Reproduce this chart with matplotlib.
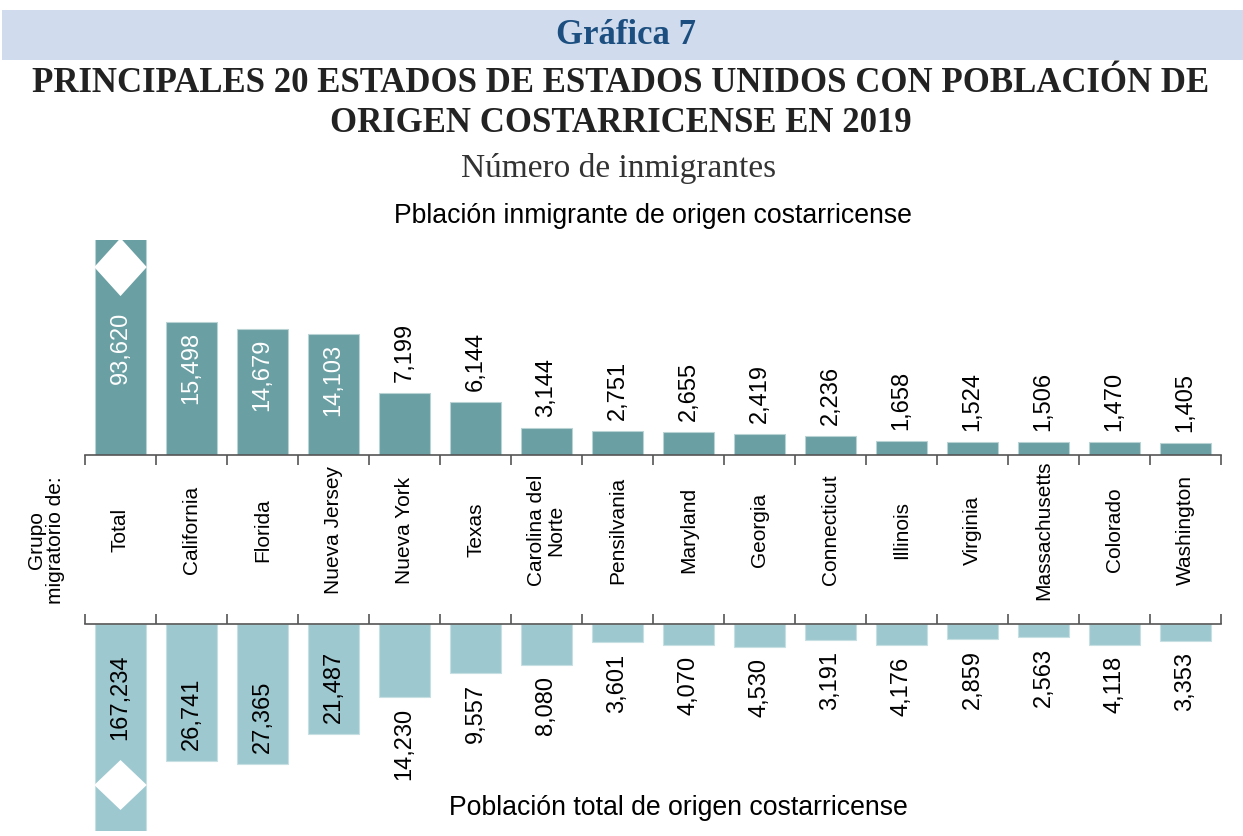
import matplotlib
matplotlib.use("Agg")
import matplotlib.pyplot as plt
import matplotlib.transforms as mtransforms
from matplotlib.patches import Polygon, Rectangle

categories = ["Total", "California", "Florida", "Nueva Jersey", "Nueva York", "Texas",
              "Carolina del\nNorte", "Pensilvania", "Maryland", "Georgia", "Connecticut",
              "Illinois", "Virginia", "Massachusetts", "Colorado", "Washington"]
inmigrantes = [93620, 15498, 14679, 14103, 7199, 6144, 3144, 2751, 2655, 2419, 2236,
               1658, 1524, 1506, 1470, 1405]
poblacion_total = [167234, 26741, 27365, 21487, 14230, 9557, 8080, 3601, 4070, 4530,
                   3191, 4176, 2859, 2563, 4118, 3353]

W, H = 1243, 836
fig = plt.figure(figsize=(W / 100, H / 100), dpi=100)
SANS = "Liberation Sans"
SERIF = "Liberation Serif"
VFS = 17

def px_axes(x0, y0, x1, y1):
    return fig.add_axes([x0 / W, 1 - y1 / H, (x1 - x0) / W, (y1 - y0) / H])

# header band
fig.patches.append(Rectangle((2 / W, 1 - 60 / H), 1 - 2 / W, 50 / H, transform=fig.transFigure,
                             facecolor="#d0dcee", edgecolor="none", zorder=0))
fig.text(626 / W, 1 - 35 / H, "Gráfica 7", ha="center", va="center", family=SERIF,
         fontweight="bold", fontsize=25, color="#1c4f80")
fig.text(621 / W, 1 - 83 / H, "PRINCIPALES 20 ESTADOS DE ESTADOS UNIDOS CON POBLACIÓN DE",
         ha="center", va="center", family=SERIF, fontweight="bold", fontsize=25, color="#222222")
fig.text(621 / W, 1 - 123 / H, "ORIGEN COSTARRICENSE EN 2019",
         ha="center", va="center", family=SERIF, fontweight="bold", fontsize=25, color="#222222")
fig.text(619 / W, 1 - 168 / H, "Número de inmigrantes", ha="center", va="center",
         family=SERIF, fontsize=24, color="#333333")
fig.text(653 / W, 1 - 216 / H, "Pblación inmigrante de origen costarricense", ha="center",
         va="center", family=SANS, fontsize=19.2, color="black")
fig.text(678 / W, 1 - 808 / H, "Población total de origen costarricense", ha="center",
         va="center", family=SANS, fontsize=19.2, color="black")
fig.text(46 / W, 1 - 540 / H, "Grupo\nmigratorio de:", ha="center", va="center",
         rotation=90, family=SANS, fontsize=15, linespacing=1.0)

n = len(categories)
xs = list(range(n))
top_col = "#6a9fa3"
bot_col = "#9ec8cf"
axis_col = "#555555"
bw = 0.72

# ---------- top axes ----------
ax1 = px_axes(85, 240, 1221, 455)
ax1.bar(xs, inmigrantes, width=bw, color=top_col, edgecolor="#b9d3d5", linewidth=0.8)
ax1.set_xlim(-0.5, n - 0.5)
ax1.set_ylim(0, 215 / 8.58 * 1000)
for s in ["top", "right", "left"]:
    ax1.spines[s].set_visible(False)
ax1.spines["bottom"].set_color(axis_col)
ax1.spines["bottom"].set_linewidth(1.2)
ax1.set_yticks([])
ax1.set_xticks([i - 0.5 for i in range(n + 1)])
ax1.set_xticklabels([])
ax1.tick_params(axis="x", direction="out", length=7, width=1.2, color=axis_col)

ymax1 = ax1.get_ylim()[1]
for i, v in enumerate(inmigrantes):
    lab = f"{v:,}"
    if v > ymax1:
        ax1.text(i, (455 - 312) / 215, lab, transform=mtransforms.blended_transform_factory(
            ax1.transData, ax1.transAxes), rotation=90, ha="center", va="top",
            color="white", fontsize=VFS, family=SANS)
    elif v > 10000:
        ax1.annotate(lab, (i, v), xytext=(0, -10), textcoords="offset pixels", rotation=90,
                     ha="center", va="top", color="white", fontsize=VFS, family=SANS)
    else:
        ax1.annotate(lab, (i, v), xytext=(0, 11), textcoords="offset pixels", rotation=90,
                     ha="center", va="bottom", color="black", fontsize=VFS, family=SANS)

# diamond break on top Total bar
tr1 = mtransforms.blended_transform_factory(ax1.transData, ax1.transAxes)
cy, hh, hw = 0.874, 29 / 215, 0.37
ax1.add_patch(Polygon([(0 - hw, cy), (0, cy + hh), (0 + hw, cy), (0, cy - hh)],
                      closed=True, transform=tr1, facecolor="white", edgecolor="none",
                      clip_on=False, zorder=5))

# ---------- bottom axes ----------
ax2 = px_axes(85, 624, 1221, 831)
ax2.bar(xs, poblacion_total, width=bw, color=bot_col, edgecolor="#c6dfe3", linewidth=0.8)
ax2.set_xlim(-0.5, n - 0.5)
ax2.set_ylim(207 / 5.13 * 1000, 0)
for s in ["bottom", "right", "left"]:
    ax2.spines[s].set_visible(False)
ax2.spines["top"].set_color(axis_col)
ax2.spines["top"].set_linewidth(1.2)
ax2.xaxis.tick_top()
ax2.set_yticks([])
ax2.set_xticks([i - 0.5 for i in range(n + 1)])
ax2.set_xticklabels([])
ax2.tick_params(axis="x", direction="out", length=7, width=1.2, color=axis_col)

ymax2 = ax2.get_ylim()[0]
for i, v in enumerate(poblacion_total):
    lab = f"{v:,}"
    if v > ymax2:
        ax2.text(i, (831 - 740) / 207, lab, transform=mtransforms.blended_transform_factory(
            ax2.transData, ax2.transAxes), rotation=90, ha="center", va="bottom",
            color="black", fontsize=VFS, family=SANS)
    elif v > 20000:
        ax2.annotate(lab, (i, v), xytext=(0, 11), textcoords="offset pixels", rotation=90,
                     ha="center", va="bottom", color="black", fontsize=VFS, family=SANS)
    else:
        ax2.annotate(lab, (i, v), xytext=(0, -11), textcoords="offset pixels", rotation=90,
                     ha="center", va="top", color="black", fontsize=VFS, family=SANS)

tr2 = mtransforms.blended_transform_factory(ax2.transData, ax2.transAxes)
cy2, hh2 = (831 - 785) / 207, 25 / 207
ax2.add_patch(Polygon([(0 - hw, cy2), (0, cy2 + hh2), (0 + hw, cy2), (0, cy2 - hh2)],
                      closed=True, transform=tr2, facecolor="white", edgecolor="none",
                      clip_on=False, zorder=5))

# category labels between axes
trc = mtransforms.blended_transform_factory(ax1.transData, fig.transFigure)
for i, c in enumerate(categories):
    ax1.text(i, 1 - 530 / H, c, transform=trc, rotation=90, ha="center", va="center",
             fontsize=15, family=SANS, linespacing=1.0, clip_on=False)

fig.savefig("out.png", dpi=100)
